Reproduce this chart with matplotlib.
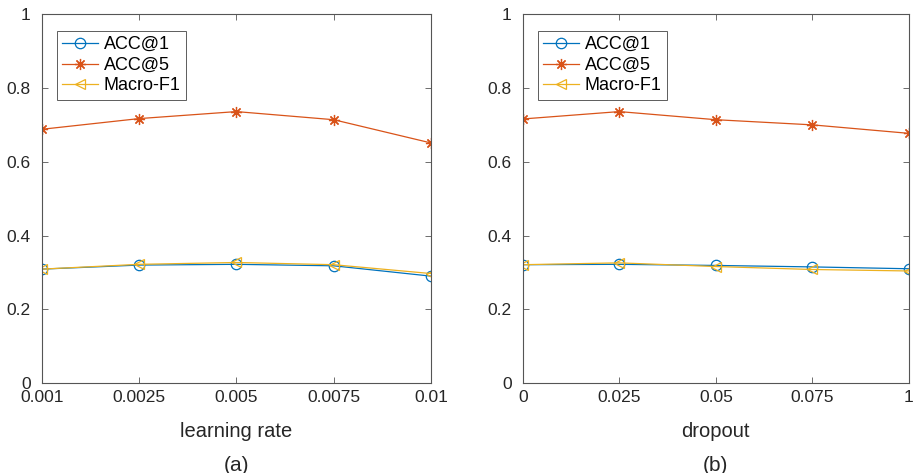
import numpy as np
import matplotlib.pyplot as plt

plt.rcParams['font.family'] = ['Liberation Sans', 'DejaVu Sans']

# (a) learning rate
lr_labels = ['0.001', '0.0025', '0.005', '0.0075', '0.01']
lr_acc1 = [0.309, 0.320, 0.322, 0.318, 0.290]
lr_acc5 = [0.688, 0.717, 0.736, 0.714, 0.651]
lr_f1 = [0.309, 0.322, 0.327, 0.321, 0.297]

# (b) dropout
do_labels = ['0', '0.025', '0.05', '0.075', '1']
do_acc1 = [0.321, 0.322, 0.319, 0.315, 0.310]
do_acc5 = [0.716, 0.736, 0.714, 0.700, 0.677]
do_f1 = [0.321, 0.326, 0.316, 0.308, 0.304]

C1, C2, C3 = '#0072BD', '#D95319', '#EDB120'
TXT = '#262626'


def panel(ax, labels, acc1, acc5, f1, xlabel, tag):
    x = np.arange(len(labels))
    ax.plot(x, acc1, color=C1, marker='o', mfc='none', ms=7.5, mew=0.9, lw=0.9, label='ACC@1')
    ax.plot(x, acc5, color=C2, marker=(8, 2, 0), ms=8, mew=0.9, lw=0.9, label='ACC@5')
    ax.plot(x, f1, color=C3, marker='<', mfc='none', ms=7.5, mew=0.9, lw=0.9, label='Macro-F1')
    ax.set_xlim(0, len(labels) - 1)
    ax.set_ylim(0, 1)
    ax.set_xticks(x)
    ax.set_xticklabels(labels)
    ax.set_yticks([0, 0.2, 0.4, 0.6, 0.8, 1])
    ax.set_yticklabels(['0', '0.2', '0.4', '0.6', '0.8', '1'])
    ax.tick_params(direction='in', length=4, width=0.6, color='#555555',
                   labelsize=12.5, labelcolor=TXT, top=True, right=True)
    ax.tick_params(axis='x', pad=5)
    ax.tick_params(axis='y', pad=8)
    for s in ax.spines.values():
        s.set_color('#555555')
        s.set_linewidth(0.8)
    ax.set_xlabel(xlabel, fontsize=14.5, labelpad=12, color=TXT)
    leg = ax.legend(loc='upper left', bbox_to_anchor=(0.039, 0.955), fontsize=13,
                    fancybox=False, edgecolor='#333333', handlelength=2.0,
                    borderpad=0.3, labelspacing=0.2, handletextpad=0.3,
                    borderaxespad=0.0)
    leg.get_frame().set_linewidth(0.7)
    ax.text(0.5, -0.222, tag, transform=ax.transAxes, ha='center', va='center',
            fontsize=15, color=TXT)


fig = plt.figure(figsize=(9.19, 4.73), dpi=100)
ax1 = fig.add_axes([0.0454, 0.190, 0.4236, 0.780])
ax2 = fig.add_axes([0.5688, 0.190, 0.4203, 0.780])
panel(ax1, lr_labels, lr_acc1, lr_acc5, lr_f1, 'learning rate', '(a)')
panel(ax2, do_labels, do_acc1, do_acc5, do_f1, 'dropout', '(b)')

fig.savefig('out.png', dpi=100)
